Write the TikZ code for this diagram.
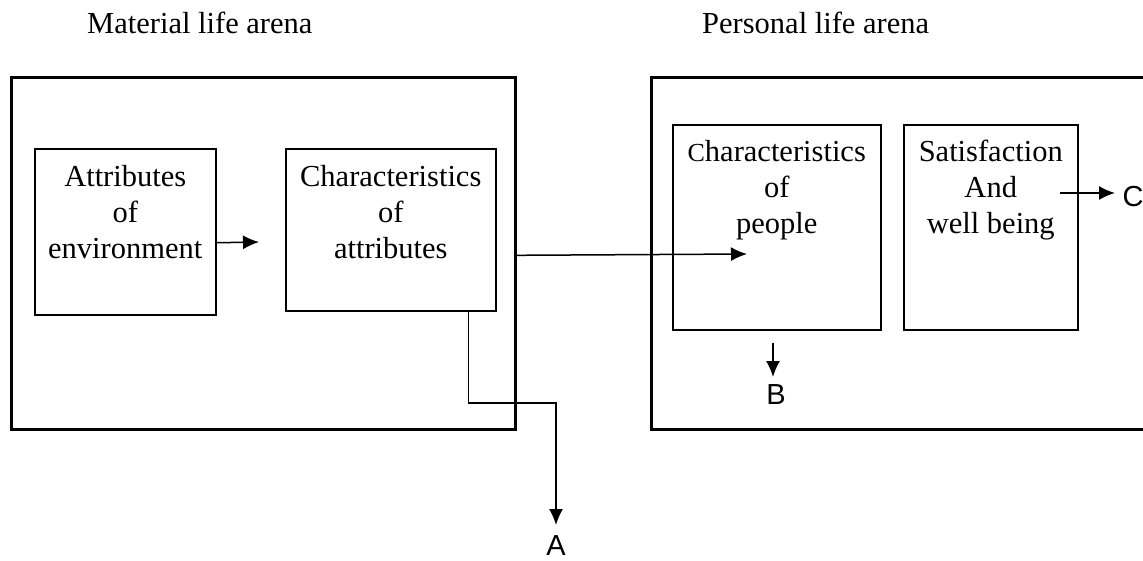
\documentclass[tikz,border=0pt]{standalone}
\usepackage{fontspec}
\setmainfont{Liberation Serif}
\newfontfamily\arialfont{Liberation Sans}
\usetikzlibrary{arrows.meta}
\begin{document}
\begin{tikzpicture}[x=1pt,y=-1pt,
  arena/.style={draw,line width=2.6pt,anchor=north west,inner sep=0pt},
  inbox/.style={draw,line width=1.5pt,anchor=north west,inner sep=0pt},
  boxtext/.style={anchor=north,align=center,inner sep=0pt,font=\fontsize{30.5}{36}\selectfont},
  title/.style={anchor=base west,inner sep=0pt,font=\fontsize{30.5}{36}\selectfont},
  letter/.style={inner sep=0pt,font=\arialfont\fontsize{29}{32}\selectfont},
  arr/.style={line width=1.5pt,-{Latex[length=16pt,width=14pt]}}
]
\useasboundingbox (0,0) rectangle (1143,560);
\clip (0,0) rectangle (1143,560);
% titles
\node[title] (t1) at (87,33) {Material life arena};
\node[title] (t2) at (702,33) {Personal life arena};
% arenas
\node[arena,minimum width=504pt,minimum height=352pt] (material) at (10,76) {};
\node[arena,minimum width=520pt,minimum height=352pt] (personal) at (650,76) {};
% inner boxes
\node[inbox,minimum width=181pt,minimum height=166pt] (env) at (34,148) {};
\node[inbox,minimum width=210pt,minimum height=162pt] (chars) at (285,148) {};
\node[inbox,minimum width=208pt,minimum height=205pt] (people) at (672,124) {};
\node[inbox,minimum width=174pt,minimum height=205pt] (satis) at (903,124) {};
% texts
\node[boxtext] (envt) at ([yshift=-17pt]env.north) {Attributes\\of\\environment};
\node[boxtext] (charst) at ([yshift=-17pt]chars.north) {Characteristics\\of\\attributes};
\node[boxtext] (peoplet) at ([yshift=-16pt]people.north) {{\fontsize{26}{36}\selectfont C}haracteristics\\of\\people};
\node[boxtext] (satist) at ([yshift=-16pt]satis.north) {Satisfaction\\And\\well being};
% letters
\node[letter] (A) at (556,546) {A};
\node[letter] (B) at (776,395) {B};
\node[letter] (C) at (1133,197) {C};
% connector end points
\coordinate (tip1) at (259,242);
\coordinate (tip2) at (747,254);
\coordinate (bend) at (556,403);
\coordinate (tipA) at (556,525);
\coordinate (startB) at (773,343);
\coordinate (tipB) at (773,377);
\coordinate (startC) at (1060,193);
\coordinate (tipC) at (1115,193);
% connectors
\draw[arr] ([yshift=-11pt]env.east) -- (tip1);
\draw[arr] ([yshift=-2pt]material.east) -- (tip2);
\draw[arr] ([xshift=-28pt]chars.south east) |- (bend) -- (tipA);
\draw[arr] (startB) -- (tipB);
\draw[arr] (startC) -- (tipC);
\end{tikzpicture}
\end{document}
